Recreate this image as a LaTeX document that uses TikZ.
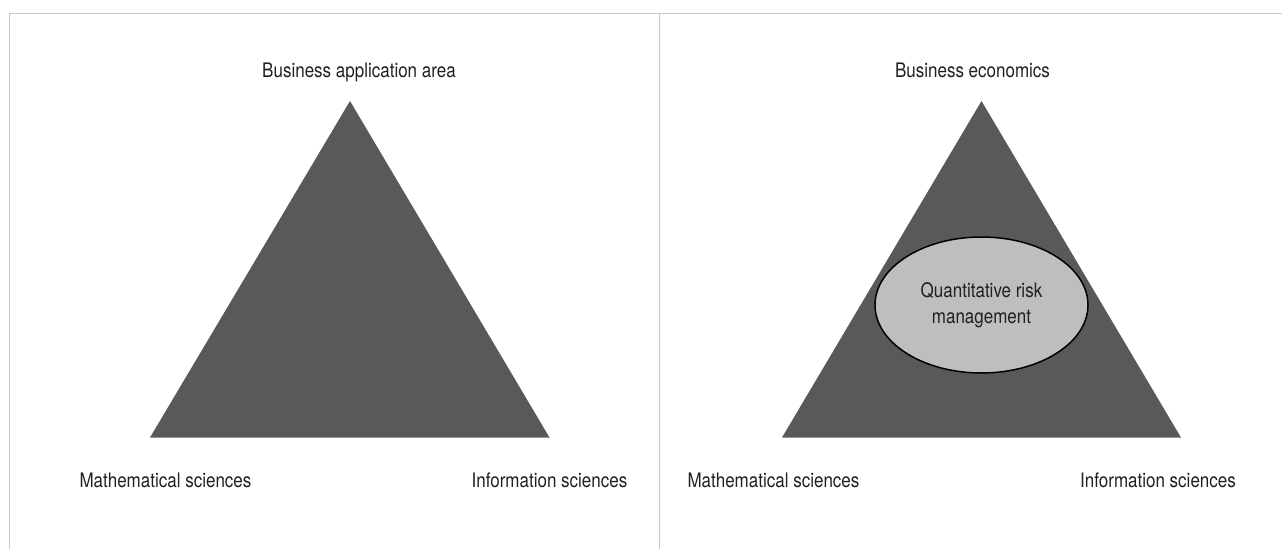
\documentclass[tikz,border=0pt]{standalone}
\usepackage{fontspec}
\setmainfont{TeX Gyre Heros}[FakeStretch=0.85]
\usetikzlibrary{shapes.geometric}
\definecolor{framegray}{HTML}{C8C8C8}
\definecolor{triangray}{HTML}{58595B}
\definecolor{ovalgray}{HTML}{BCBEC0}
\definecolor{labelgray}{HTML}{231F20}

\begin{document}
\begin{tikzpicture}[x=1pt,y=-1pt,
    label text/.style={anchor=base,text=labelgray,inner sep=0pt,font=\fontsize{20}{26}\selectfont},
    risk oval/.style={ellipse,draw=black,line width=1.5pt,fill=ovalgray,text=labelgray,
        minimum width=213pt,minimum height=136pt,inner sep=0pt,align=center,
        font=\fontsize{20}{26}\selectfont}]
    \useasboundingbox (0,0) rectangle (1282,549);
    % frame
    \coordinate (topleft) at (9.5,13.5);
    \coordinate (topright) at (1282,13.5);
    \coordinate (bottomleft) at (9.5,549);
    \coordinate (midtop) at (659.5,13.5);
    \coordinate (midbottom) at (659.5,549);
    \draw [framegray,line width=1.6pt] (bottomleft)--(topleft)--(topright);
    \draw [framegray,line width=1.6pt] (midtop)--(midbottom);
    % left triangle
    \coordinate (apexL) at (350,101);
    \coordinate (mathL) at (150,437.5);
    \coordinate (infoL) at (549.5,437.5);
    \fill [triangray] (apexL)--(infoL)--(mathL)--cycle;
    \node [label text] (businessL) at (359,77) {Business application area};
    \node [label text] (mathtextL) at (165.5,487) {Mathematical sciences};
    \node [label text] (infotextL) at (549.5,487) {Information sciences};
    % right triangle
    \coordinate (apexR) at (981.5,101);
    \coordinate (mathR) at (782,437.5);
    \coordinate (infoR) at (1181,437.5);
    \fill [triangray] (apexR)--(infoR)--(mathR)--cycle;
    \node [risk oval] (qrm) at (981.5,305) {Quantitative risk\\management};
    \node [label text] (businessR) at (972.5,77) {Business economics};
    \node [label text] (mathtextR) at (773.5,487) {Mathematical sciences};
    \node [label text] (infotextR) at (1158,487) {Information sciences};
\end{tikzpicture}
\end{document}
